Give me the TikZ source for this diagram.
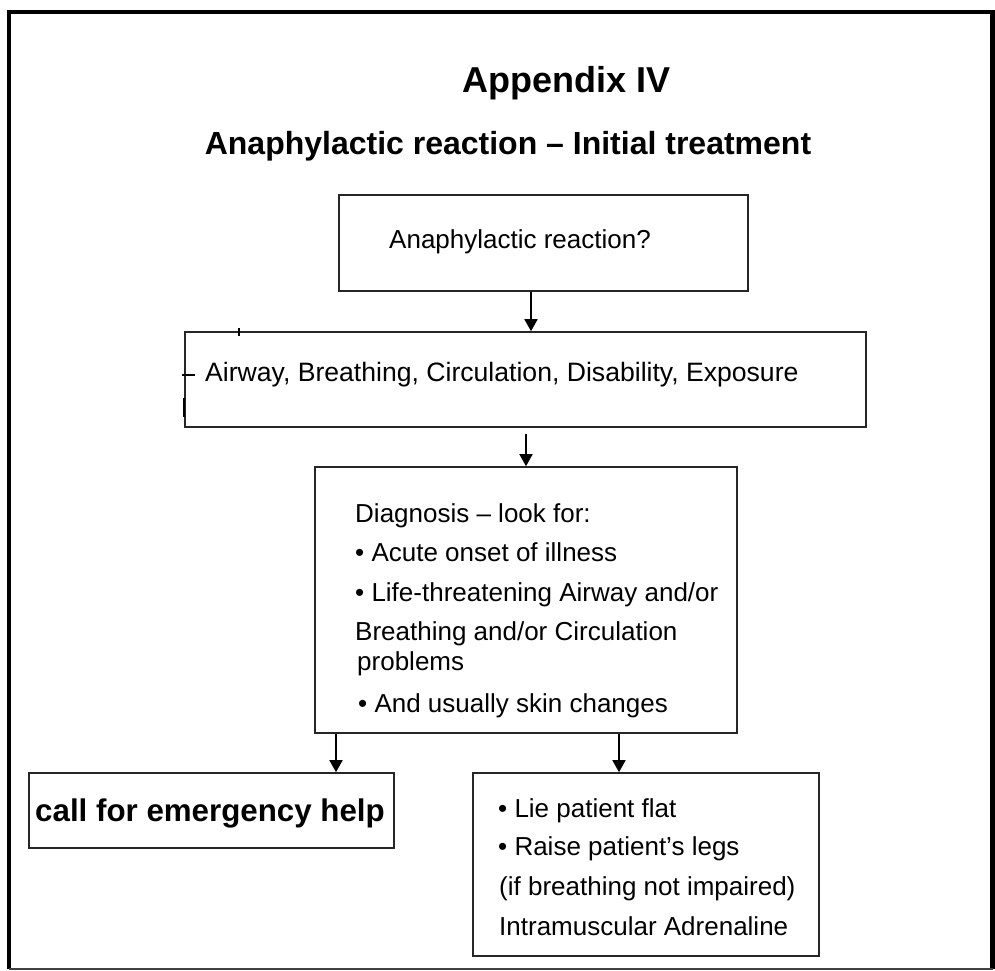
\documentclass[tikz,border=0pt]{standalone}
\usepackage{fontspec}
\setmainfont{Liberation Sans}
\usetikzlibrary{arrows.meta}
\begin{document}
\begin{tikzpicture}[x=1pt,y=-1pt,
  box/.style={draw=black!85,line width=1.6pt,inner sep=0pt,rectangle},
  txt/.style={anchor=base west,inner sep=0pt,font=\fontsize{26}{30}\selectfont},
  arr/.style={line width=1.7pt,-{Triangle[width=13pt,length=12pt]}},
  frame/.style={line width=4.5pt,black}]
\useasboundingbox (0,0) rectangle (995,970);
% outer frame
\draw[frame] (9,969) -- (9,12) -- (992.5,12) -- (992.5,969);
\draw[line width=1.2pt,black!75] (9,969) -- (992.5,969);
% titles
\node[anchor=base,inner sep=0pt,font=\bfseries\fontsize{36}{40}\selectfont] (title) at (567,92) {Appendix IV};
\node[anchor=base,inner sep=0pt,font=\bfseries\fontsize{32}{36}\selectfont] (sub) at (508,154) {Anaphylactic reaction – Initial treatment};
% boxes
\node[box,minimum width=409pt,minimum height=96pt] (b1) at (543.5,243) {};
\node[box,minimum width=681pt,minimum height=95pt] (b2) at (525.5,379.5) {};
\node[box,minimum width=422pt,minimum height=266pt] (b3) at (526,600) {};
\node[box,minimum width=365pt,minimum height=75pt] (b4) at (211.5,810.5) {};
\node[box,minimum width=346pt,minimum height=183pt] (b5) at (646,864.5) {};
% texts
\node[txt] (t1) at (389,248) {Anaphylactic reaction?};
\node[txt,font=\fontsize{26.6}{30}\selectfont] (t2) at (205,381) {Airway, Breathing, Circulation, Disability, Exposure};
\node[txt] (t3a) at (355,522) {Diagnosis – look for:};
\node[txt] (t3b) at (355,561) {• Acute onset of illness};
\node[txt] (t3c) at (355,601) {• Life-threatening Airway and/or};
\node[txt] (t3d) at (355,640) {Breathing and/or Circulation};
\node[txt] (t3e) at (357,670) {problems};
\node[txt] (t3f) at (358,712) {• And usually skin changes};
\node[anchor=base west,inner sep=0pt,font=\bfseries\fontsize{31.3}{36}\selectfont] (t4) at (35,821) {call for emergency help};
\node[txt] (t5a) at (498,817) {• Lie patient flat};
\node[txt] (t5b) at (498,855) {• Raise patient’s legs};
\node[txt] (t5c) at (499,895) {(if breathing not impaired)};
\node[txt] (t5d) at (499,935) {Intramuscular Adrenaline};
% connector x positions
\coordinate (x1) at (531,0);
\coordinate (x2) at (526,0);
\coordinate (x3) at (336,0);
\coordinate (x4) at (619,0);
\draw[arr] (b1.south -| x1) -- (b2.north -| x1);
\draw[arr] ([yshift=-6pt]b2.south -| x2) -- (b3.north -| x2);
\draw[arr] (b3.south -| x3) -- (b4.north -| x3);
\draw[arr] (b3.south -| x4) -- (b5.north -| x4);
% stray marks
\draw[line width=1.5pt] (239,328) -- (239,336);
\draw[line width=1.2pt] (182,375) -- (195,375);
\draw[line width=2pt] (184,398) -- (184,417);
\end{tikzpicture}
\end{document}
